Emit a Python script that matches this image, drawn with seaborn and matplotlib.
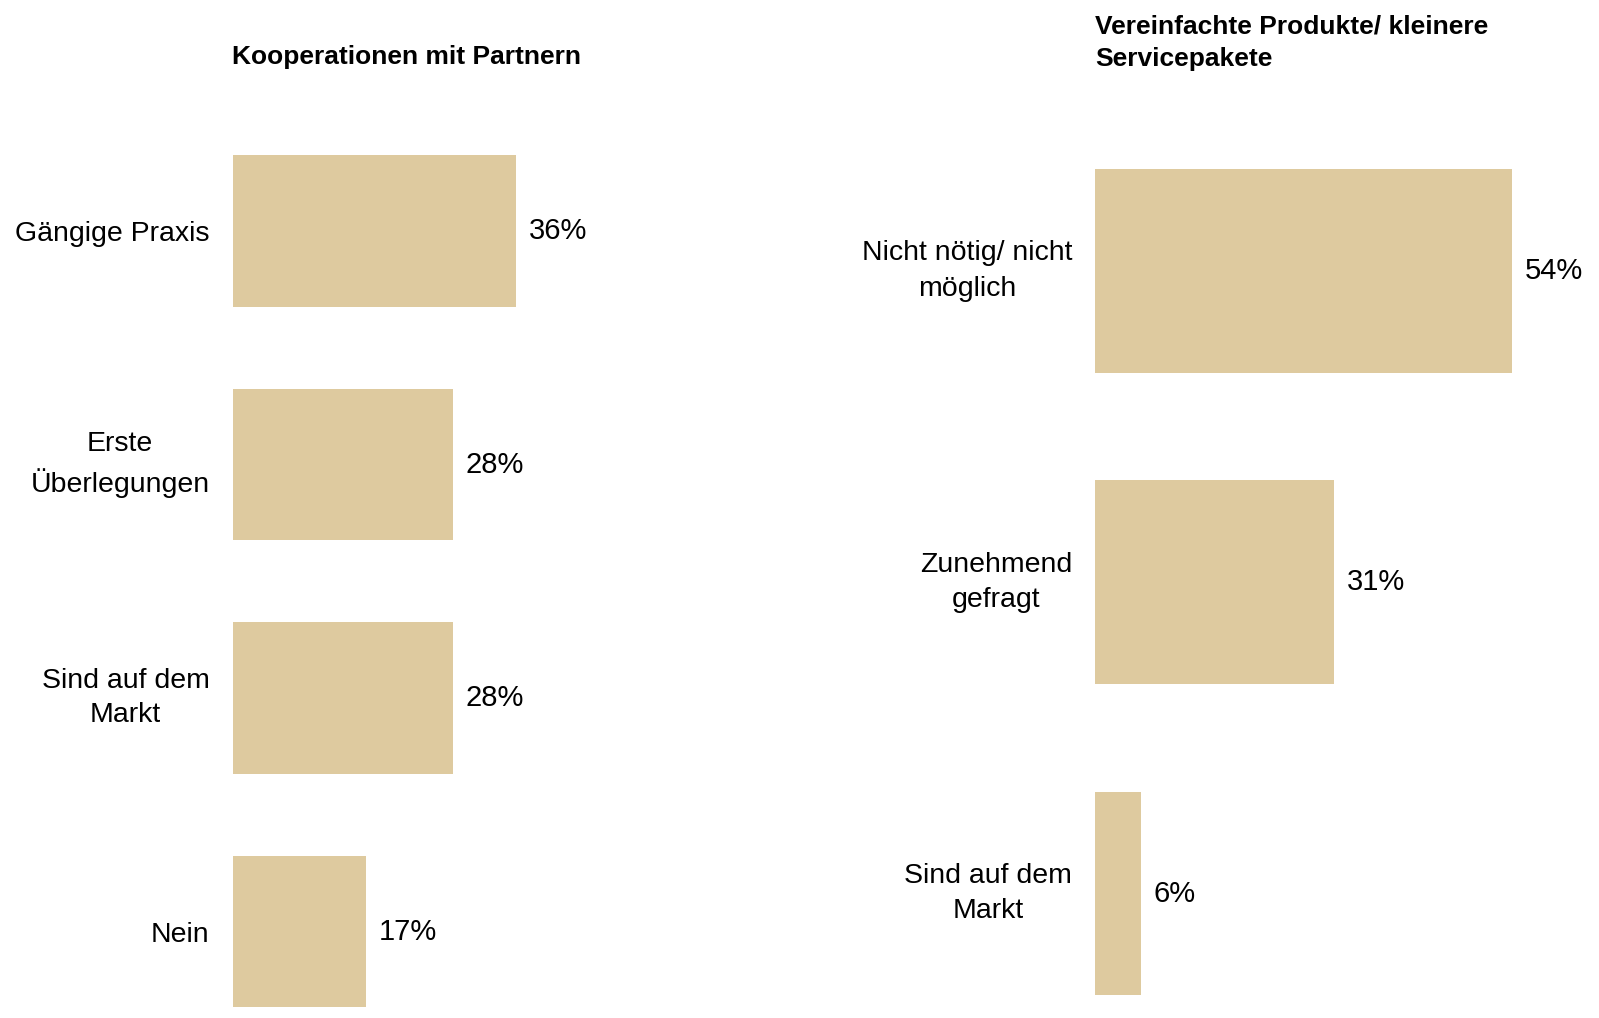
import matplotlib
matplotlib.use("Agg")
import matplotlib.pyplot as plt
import seaborn as sns
import pandas as pd

# Survey results, two questions
left_title = "Kooperationen mit Partnern"
left_categories = ["Gängige Praxis", "Erste\nÜberlegungen", "Sind auf dem\nMarkt", "Nein"]
left_values = [36, 28, 28, 17]

right_title = "Vereinfachte Produkte/ kleinere\nServicepakete"
right_categories = ["Nicht nötig/ nicht\nmöglich", "Zunehmend\ngefragt", "Sind auf dem\nMarkt"]
right_values = [54, 31, 6]

BAR_COLOR = "#DECA9F"

sns.set_theme(style="white")
plt.rcParams["font.family"] = ["Liberation Sans", "DejaVu Sans"]

W, H = 1599, 1018
fig = plt.figure(figsize=(W / 100, H / 100), dpi=100)
fig.patch.set_facecolor("white")


def panel(left_px, px_per_unit, xmax, pitch_px, first_center_px,
          categories, values, bar_width):
    n = len(categories)
    last_center = first_center_px + (n - 1) * pitch_px
    y_bottom = (n - 1) + (H - last_center) / pitch_px
    y_top = -0.5
    top_px = first_center_px - 0.5 * pitch_px
    ax = fig.add_axes([left_px / W, 0, px_per_unit * xmax / W, (H - top_px) / H])
    df = pd.DataFrame({"cat": categories, "val": values})
    sns.barplot(data=df, x="val", y="cat", orient="h", color=BAR_COLOR,
                saturation=1, width=bar_width, ax=ax, edgecolor="none")
    ax.set_xlim(0, xmax)
    ax.set_ylim(y_bottom, y_top)
    for cont in ax.containers:
        ax.bar_label(cont, labels=[f"{v}%" for v in values], padding=9,
                     fontsize=21, color="black")
    ax.set_xlabel("")
    ax.set_ylabel("")
    ax.set_xticks([])
    ax.tick_params(axis="y", length=0, pad=16.5, labelsize=20.5, labelcolor="black")
    for lbl in ax.get_yticklabels():
        lbl.set_multialignment("center")
        lbl.set_linespacing(1.45)
        if "\n" in lbl.get_text():
            lbl.set_verticalalignment("center")
    for s in ax.spines.values():
        s.set_visible(False)
    ax.patch.set_alpha(0)
    return ax


ax1 = panel(232.5, 7.875, 40, 233.5, 231.0,
            left_categories, left_values, 0.65)
ax2 = panel(1095.0, 7.72, 60, 311.25, 271.0,
            right_categories, right_values, 0.655)

fig.text(232.5 / W, 1 - 57 / H, left_title, fontsize=19, fontweight="bold",
         ha="left", va="center", color="black")
fig.text(1095 / W, 1 - 43 / H, right_title, fontsize=19, fontweight="bold",
         ha="left", va="center", color="black", linespacing=1.45)

fig.savefig("out.png", dpi=100, facecolor="white")
